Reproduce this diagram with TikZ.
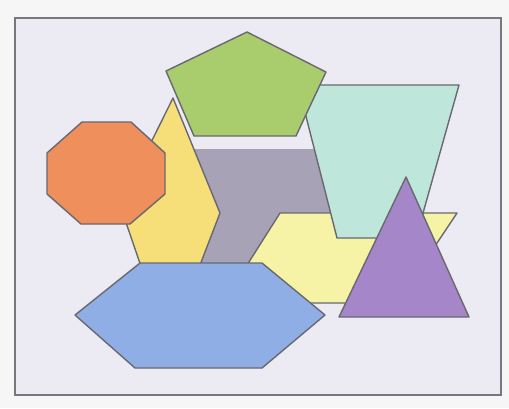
\documentclass[tikz,border=0pt]{standalone}
\begin{document}
\begin{tikzpicture}[x=1pt,y=-1pt,
  shp/.style={draw=edgec,line width=1.4pt,line join=round},
]
\definecolor{edgec}{HTML}{686870}
\definecolor{paper}{HTML}{F6F6F6}
\definecolor{panel}{HTML}{ECEBF3}
\definecolor{grayc}{HTML}{A7A2B6}
\definecolor{yellowc}{HTML}{F6DE78}
\definecolor{orangec}{HTML}{EF8F5C}
\definecolor{greenc}{HTML}{A9CC6C}
\definecolor{tealc}{HTML}{BEE6DA}
\definecolor{lyellowc}{HTML}{F6F2A6}
\definecolor{purplec}{HTML}{A586C8}
\definecolor{bluec}{HTML}{8FAEE6}
\useasboundingbox (0,0) rectangle (509,408);
\fill[paper] (0,0) rectangle (509,408);
\draw[fill=panel,draw=edgec!90,line width=1.2pt] (15,18) rectangle (501,395);
% gray block (back)
\fill[grayc] (185,149) rectangle (345,266);
% yellow hexagon
\draw[shp,fill=yellowc] (173,98) -- (220,213) -- (195,278) -- (145,278) -- (120,205) -- cycle;
% orange octagon
\draw[shp,fill=orangec] (82,122) -- (131,122) -- (165,153) -- (165,194) -- (130,224) -- (81,224) -- (47,194) -- (47,153) -- cycle;
% light yellow parallelogram
\draw[shp,fill=lyellowc] (280,213) -- (457,213) -- (397,303) -- (223,303) -- cycle;
% teal trapezoid
\draw[shp,fill=tealc] (298,85) -- (459,85) -- (416,238) -- (337,238) -- cycle;
% green pentagon
\draw[shp,fill=greenc] (247,32) -- (326,72) -- (296,136) -- (194,136) -- (166,71) -- cycle;
% purple triangle
\draw[shp,fill=purplec] (406,177) -- (469,317) -- (339,317) -- cycle;
% blue hexagon
\draw[shp,fill=bluec] (140,263) -- (262,263) -- (325,315) -- (262,368) -- (135,368) -- (75,315) -- cycle;
\end{tikzpicture}
\end{document}
